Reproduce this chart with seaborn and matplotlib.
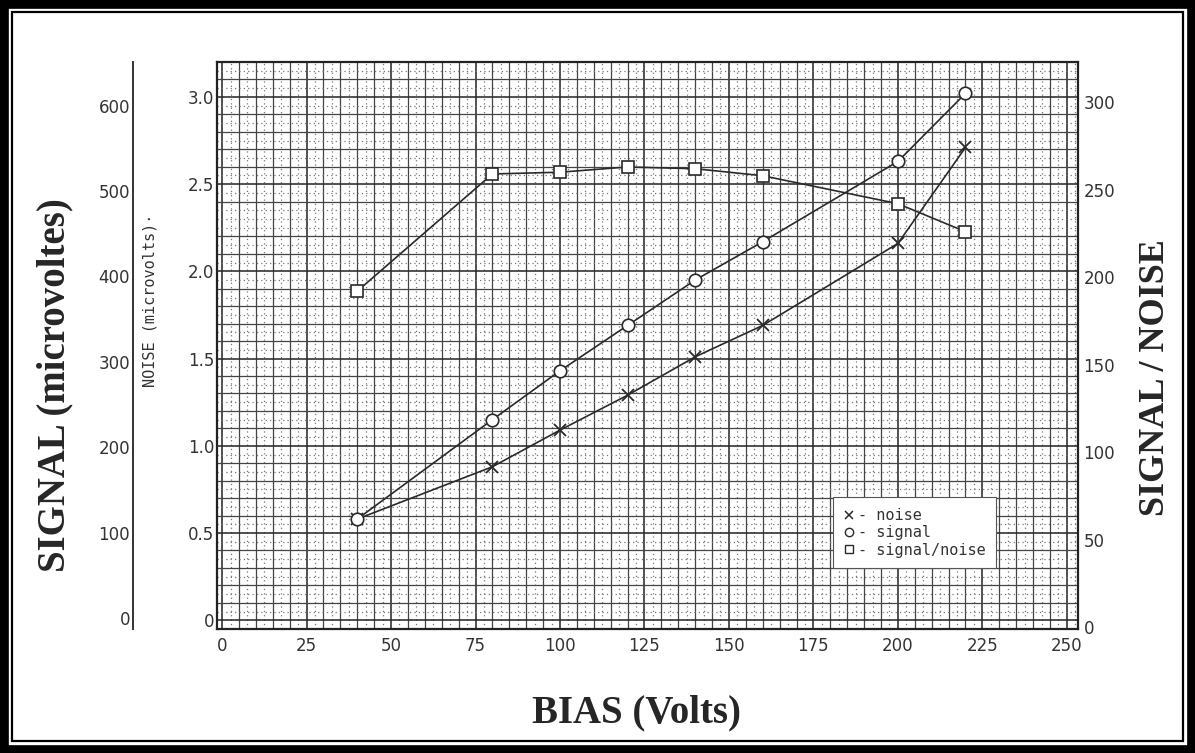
import numpy as np
import pandas as pd
import matplotlib
matplotlib.use("Agg")
import matplotlib.pyplot as plt
from matplotlib.lines import Line2D
from matplotlib.patches import Rectangle
import seaborn as sns

# ---------------- data ----------------
bias = [40, 80, 100, 120, 140, 160, 200, 220]
noise = [0.58, 0.88, 1.09, 1.29, 1.51, 1.69, 2.16, 2.71]          # inner left scale
signal = [0.58, 1.15, 1.43, 1.69, 1.95, 2.17, 2.63, 3.02]         # inner left scale
signal_noise = [192, 259, 260, 263, 262, 258, 242, 226]           # right scale

x_ticks = [0, 25, 50, 75, 100, 125, 150, 175, 200, 225, 250]
left_ticks = [0, 0.5, 1.0, 1.5, 2.0, 2.5, 3.0]
left_labels = ["0", "0.5", "1.0", "1.5", "2.0", "2.5", "3.0"]
right_ticks = [0, 50, 100, 150, 200, 250, 300]
outer_ticks = [0, 100, 200, 300, 400, 500, 600]

legend_labels = ["- noise", "- signal", "- signal/noise"]

# ---------------- style ----------------
sns.set_style("white")
plt.rcParams["font.family"] = ["DejaVu Sans"]

W, H = 1195, 753
fig = plt.figure(figsize=(W / 100, H / 100), dpi=100)
fig.patch.set_facecolor("white")

ax = fig.add_axes([217 / W, 1 - 629 / H, 861 / W, 567 / H])
ax.set_xlim(-1.5, 253.3)
ax.set_ylim(-0.05, 3.2)

# graph-paper grid
gkw = dict(zorder=0)
for v in np.arange(0, 253.3, 2.5):
    if abs(v % 25) < 1e-6:
        ax.axvline(v, color="#2a2a2a", lw=1.15, **gkw)
    elif abs(v % 5) < 1e-6:
        ax.axvline(v, color="#444444", lw=0.9, **gkw)
    else:
        ax.axvline(v, color="#777777", lw=0.9, ls=(0, (1, 2.5)), **gkw)
for v in np.arange(0, 3.2, 0.05):
    r = round(v, 2)
    if abs((r * 100) % 50) < 1e-6:
        ax.axhline(r, color="#2a2a2a", lw=1.15, **gkw)
    elif abs((r * 100) % 10) < 1e-6:
        ax.axhline(r, color="#444444", lw=0.9, **gkw)
    else:
        ax.axhline(r, color="#777777", lw=0.9, ls=(0, (1, 2.5)), **gkw)

line_col = "#2a2a2a"
df = pd.DataFrame({"bias": bias, "noise": noise, "signal": signal, "sn": signal_noise})

sns.lineplot(data=df, x="bias", y="noise", ax=ax, color=line_col, lw=1.2,
             marker="x", markersize=8, markeredgewidth=1.3, markeredgecolor=line_col,
             zorder=3)
sns.lineplot(data=df, x="bias", y="signal", ax=ax, color=line_col, lw=1.2,
             marker="o", markersize=9, markerfacecolor="white", markeredgewidth=1.2,
             markeredgecolor=line_col, zorder=3)

ax.set_xticks(x_ticks)
ax.set_xticklabels([str(t) for t in x_ticks])
ax.set_yticks(left_ticks)
ax.set_yticklabels(left_labels)
ax.tick_params(axis="both", length=0, labelsize=12, colors="#333333")
ax.tick_params(axis="x", pad=6)
ax.tick_params(axis="y", pad=2)
ax.set_xlabel("")
ax.set_ylabel("")
for s in ax.spines.values():
    s.set_color("#222222")
    s.set_linewidth(1.6)

# right axis: signal / noise
ax2 = ax.twinx()
ax2.set_ylim(-1.1, 323)
sns.lineplot(data=df, x="bias", y="sn", ax=ax2, color=line_col, lw=1.2,
             marker="s", markersize=8, markerfacecolor="white", markeredgewidth=1.2,
             markeredgecolor=line_col, zorder=3)
ax2.set_yticks(right_ticks)
ax2.set_yticklabels([str(t) for t in right_ticks])
ax2.tick_params(axis="y", length=0, labelsize=12, colors="#333333", pad=4)
ax2.set_ylabel("")
for s in ax2.spines.values():
    s.set_visible(False)

# outer left axis
ax3 = ax.twinx()
ax3.set_ylim(-13, 651)
ax3.spines["left"].set_position(("axes", -0.0976))
ax3.spines["left"].set_visible(True)
ax3.spines["left"].set_color("#333333")
ax3.spines["left"].set_linewidth(1.4)
for k in ("right", "top", "bottom"):
    ax3.spines[k].set_visible(False)
ax3.yaxis.set_ticks_position("left")
ax3.set_yticks(outer_ticks)
ax3.set_yticklabels([str(t) for t in outer_ticks])
ax3.tick_params(axis="y", length=0, labelsize=12, colors="#333333", pad=2)
ax3.patch.set_visible(False)

ax.text(-0.078, 0.58, "NOISE (microvolts)·", transform=ax.transAxes, rotation=90,
        ha="center", va="center", fontsize=11, color="#333333",
        family="DejaVu Sans Mono")

# legend (text-style key)
handles = [
    Line2D([], [], ls="none", marker="x", markersize=6, markeredgecolor=line_col, markeredgewidth=1.1),
    Line2D([], [], ls="none", marker="o", markersize=6, markerfacecolor="white", markeredgecolor=line_col),
    Line2D([], [], ls="none", marker="s", markersize=6, markerfacecolor="white", markeredgecolor=line_col),
]
leg = ax2.legend(handles, legend_labels, loc="upper left", bbox_to_anchor=(0.716, 0.232),
                 handlelength=0.6, handletextpad=0.3, labelspacing=0.15,
                 prop={"family": "DejaVu Sans Mono", "size": 11},
                 frameon=True, fancybox=False, borderpad=0.7, borderaxespad=0)
leg.get_frame().set_edgecolor("#555555")
leg.get_frame().set_linewidth(0.8)
leg.get_frame().set_facecolor("white")
leg.get_frame().set_alpha(1)
for t in leg.get_texts():
    t.set_color("#333333")

# big labels
serif = ["Liberation Serif", "DejaVu Serif"]
fig.text(55 / W, 1 - 385 / H, "SIGNAL (microvoltes)", rotation=90, ha="center", va="center",
         fontsize=28, fontweight="bold", family=serif)
fig.text(637 / W, 1 - 713 / H, "BIAS (Volts)", ha="center", va="center",
         fontsize=28, fontweight="bold", family=serif)
fig.text(1155 / W, 1 - 378 / H, "SIGNAL / NOISE", rotation=90, ha="center", va="center",
         fontsize=26, fontweight="bold", family=serif)

# double page border
fig.patches.append(Rectangle((0, 0), 1, 1, transform=fig.transFigure, fill=False,
                             ec="black", lw=12, zorder=10))
fig.patches.append(Rectangle((12 / W, 12 / H), 1 - 24 / W, 1 - 24 / H, transform=fig.transFigure,
                             fill=False, ec="black", lw=1.6, zorder=10))

fig.savefig("out.png", dpi=100)
